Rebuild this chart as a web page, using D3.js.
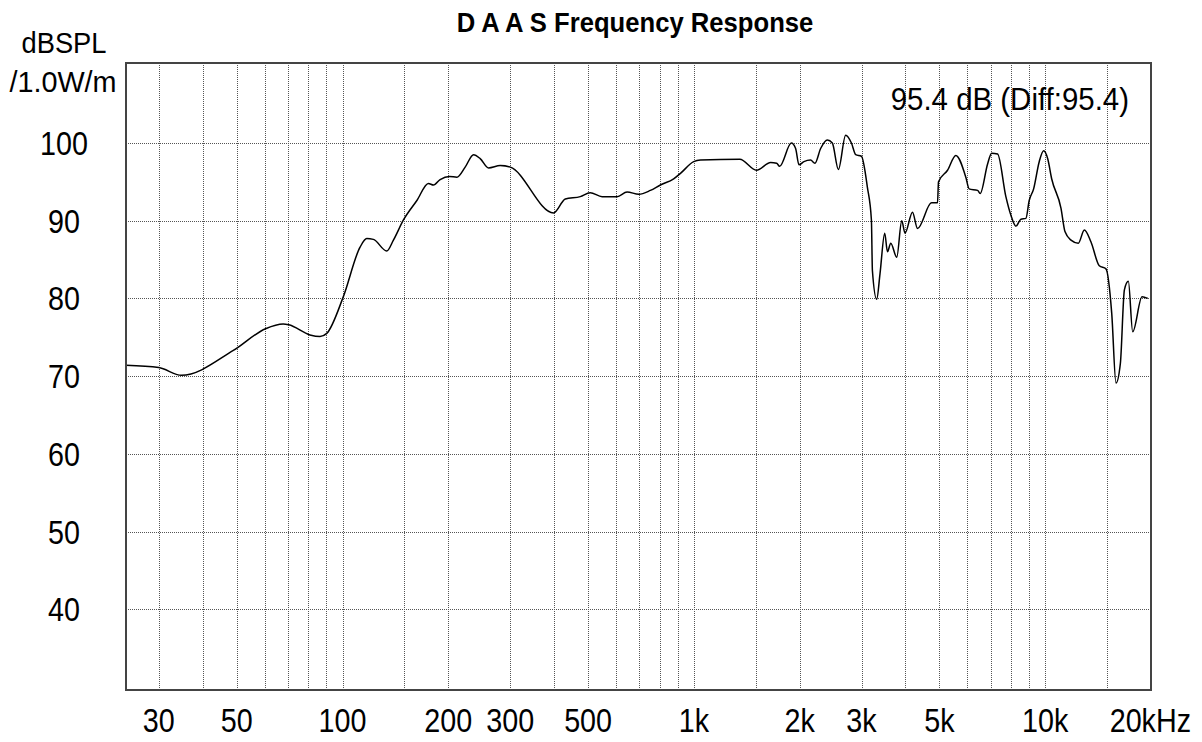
<!DOCTYPE html>
<html>
<head>
<meta charset="utf-8">
<script src="https://cdn.jsdelivr.net/npm/d3@7"></script>
<style>
  html, body { margin: 0; padding: 0; background: #fff; }
  svg { display: block; }
  text { font-family: "Liberation Sans", Arial, sans-serif; fill: #000; }
</style>
</head>
<body>
<svg id="chart" width="1202" height="742"></svg>
<script>
// ---- data ----
const freqHz = [24.2, 30, 34.8, 48.9, 60.4, 67.8, 70.3, 80.8, 86.3, 90.2, 100.5, 112.2, 117.2, 122.4, 133.6, 139.6, 149.1, 162.8, 175.6, 181.5,
  189.6, 201.6, 211.6, 223.4, 236, 246.5, 260.4, 281.1, 300.2, 398.8, 430.6, 475, 507, 548, 604.5, 645.5, 697, 752, 803, 876,
  916, 999, 1044, 1351, 1508, 1654, 1720, 1754, 1894, 1948, 1991, 2057, 2149, 2211, 2295, 2398, 2478, 2578, 2704, 2808,
  2888, 2998, 3118, 3201, 3222, 3314, 3387, 3493, 3556, 3634, 3779, 3905, 3990, 4190, 4330, 4747, 4937, 4969, 5272, 5566,
  5943, 6073, 6419, 6529, 6854, 7036, 7319, 7727, 7986, 8252, 8527, 8810, 9003, 9268, 9614, 9895, 10160, 10430, 11090, 11380,
  11840, 12420, 12920, 13490, 14250, 14890, 15460, 15900, 16360, 16800, 17240, 17740, 18860, 19580];
const splDb = [71.4, 71.1, 70.1, 73.3, 76.1, 76.7, 76.6, 75.3, 75.1, 75.5, 80.2, 86.6, 87.7, 87.6, 86.1, 87.5, 90.1, 92.6, 94.8, 94.6,
  95.3, 95.7, 95.6, 96.9, 98.5, 98.0, 96.8, 97.1, 96.9, 91.0, 92.8, 93.1, 93.6, 93.1, 93.1, 93.7, 93.4, 93.9, 94.6, 95.4,
  96.1, 97.6, 97.8, 97.9, 96.5, 97.5, 97.4, 97.0, 100.0, 99.3, 97.2, 97.6, 97.8, 97.4, 99.3, 100.4, 100.0, 96.6, 101.0, 100.0,
  98.5, 98.3, 94.3, 90.1, 83.6, 79.9, 83.2, 88.4, 86.0, 87.1, 85.3, 90.0, 88.4, 91.1, 89.0, 92.3, 92.3, 95.0, 96.5, 98.4,
  95.6, 94.1, 93.9, 93.5, 97.3, 98.7, 98.6, 93.1, 90.7, 89.3, 90.2, 90.3, 92.6, 94.1, 97.6, 99.0, 98.0, 95.4, 91.6, 88.6,
  87.5, 87.1, 88.8, 87.3, 84.2, 83.8, 78.1, 69.1, 71.6, 81.1, 82.2, 75.7, 80.2, 80.0];

const gridFreqs = [30, 40, 50, 60, 70, 80, 90, 100, 150, 200, 300, 400, 500, 600, 700, 800, 900,
  1000, 1500, 2000, 3000, 4000, 5000, 6000, 7000, 8000, 9000, 10000, 15000];
const xTickValues = [30, 50, 100, 200, 300, 500, 1000, 2000, 3000, 5000, 10000, 20000];
const xTickLabels = ["30", "50", "100", "200", "300", "500", "1k", "2k", "3k", "5k", "10k", "20kHz"];
const yTickValues = [100, 90, 80, 70, 60, 50, 40];
const titleText = "D A A S Frequency Response";
const yUnitLines = ["dBSPL", "/1.0W/m"];
const noteText = "95.4 dB (Diff:95.4)";

// ---- layout ----
const svg = d3.select("#chart");
const plot = { left: 126, right: 1151, top: 63, bottom: 690 };

const x = d3.scaleLog().domain([24.2, 20000]).range([plot.left, plot.right]);
const y = d3.scaleLinear().domain([29.6, 110.3]).range([plot.bottom, plot.top]);

const crisp = v => Math.round(v) + 0.5;

function label(g, tx, ty, str, opts) {
  const o = Object.assign({ size: 33, anchor: "middle", weight: "normal", sx: 0.87 }, opts || {});
  return g.append("text")
    .attr("transform", `translate(${tx},${ty}) scale(${o.sx},1)`)
    .attr("text-anchor", o.anchor)
    .attr("font-size", o.size)
    .attr("font-weight", o.weight)
    .text(str);
}

// grid
const grid = svg.append("g");
grid.selectAll("line.v").data(gridFreqs).join("line")
  .attr("x1", d => crisp(x(d))).attr("x2", d => crisp(x(d)))
  .attr("y1", plot.top).attr("y2", plot.bottom)
  .attr("stroke", "#555").attr("stroke-width", 1).attr("stroke-dasharray", "1,1");
grid.selectAll("line.h").data(yTickValues).join("line")
  .attr("x1", plot.left).attr("x2", plot.right)
  .attr("y1", d => crisp(y(d))).attr("y2", d => crisp(y(d)))
  .attr("stroke", "#555").attr("stroke-width", 1).attr("stroke-dasharray", "1,1");

// curve
const pts = freqHz.map((f, i) => [f, splDb[i]]);
const line = d3.line().x(d => x(d[0])).y(d => y(d[1])).curve(d3.curveMonotoneX);
svg.append("path").datum(pts)
  .attr("d", line).attr("fill", "none")
  .attr("stroke", "#000").attr("stroke-width", 1.5).attr("stroke-linejoin", "round");

// frame
svg.append("rect")
  .attr("x", plot.left).attr("y", plot.top)
  .attr("width", plot.right - plot.left).attr("height", plot.bottom - plot.top)
  .attr("fill", "none").attr("stroke", "#444").attr("stroke-width", 2);

// y tick labels
const yl = svg.append("g");
yTickValues.forEach(v => label(yl, 64, y(v) + 12, String(v)));

// y unit
label(svg, 64, 53, yUnitLines[0], { size: 30, sx: 0.91 });
label(svg, 63, 92, yUnitLines[1], { size: 30, sx: 0.96 });

// x tick labels
const xl = svg.append("g");
xTickValues.forEach((v, i) => {
  const last = i === xTickValues.length - 1;
  label(xl, last ? 1191 : x(v), 732, xTickLabels[i], { anchor: last ? "end" : "middle" });
});

// title
label(svg, 635, 32, titleText, { size: 27, weight: "bold", sx: 0.95 });

// note
label(svg, 1129, 110, noteText, { size: 32, anchor: "end", sx: 0.92 });
</script>
</body>
</html>
